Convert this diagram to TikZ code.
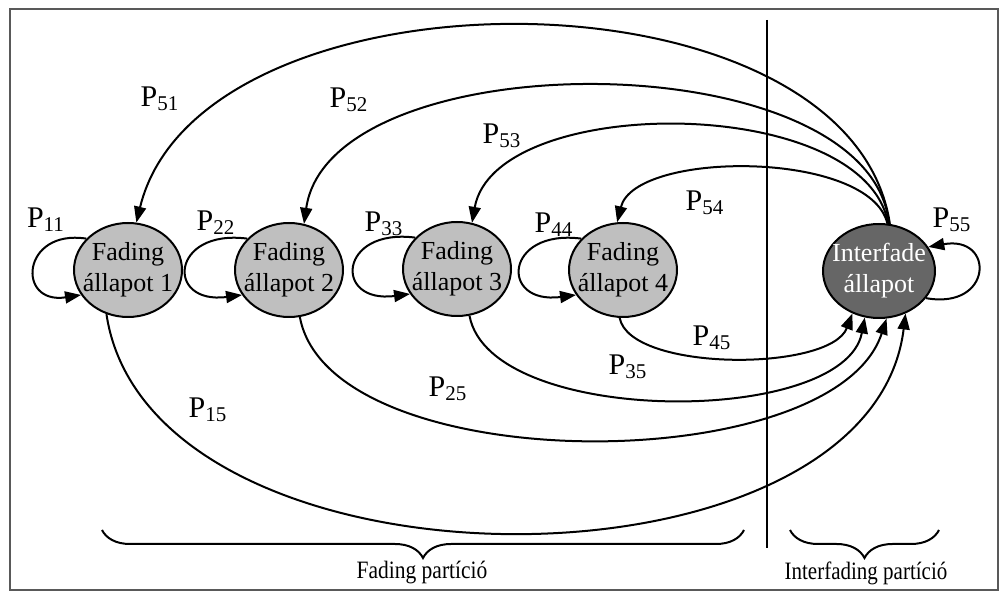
\documentclass[tikz,border=0pt]{standalone}
\usepackage{fontspec}
\usepackage{graphicx}
\setmainfont{Liberation Serif}
\usetikzlibrary{shapes.geometric,arrows.meta,decorations.pathreplacing}

\begin{document}
\begin{tikzpicture}[x=0.5pt,y=-0.5pt,
fstate/.style={ellipse, draw=black, fill=black!25, line width=1pt, minimum width=54pt, minimum height=47pt, inner sep=0pt},
istate/.style={ellipse, draw=black, fill=black!60, line width=1pt, minimum width=56pt, minimum height=47pt, inner sep=0pt},
stext/.style={align=center, font=\fontsize{13}{15.5}\selectfont, inner sep=0pt},
prob/.style={font=\fontsize{15}{18}\selectfont, inner sep=0pt},
trans/.style={line width=1pt, -{Triangle[length=8pt,width=6pt]}},
brace/.style={decorate, decoration={brace, mirror, amplitude=14pt}, line width=1pt},
part/.style={font=\fontsize{12.5}{14}\selectfont, inner sep=0pt}
]
\useasboundingbox (0,0) rectangle (1002,592);
\draw[black!65, line width=1pt] (10,9) rectangle (998,590);

% partition line
\coordinate (div_top) at (767,20);
\coordinate (div_bot) at (767,548);
\draw[line width=0.8pt] (div_top) -- (div_bot);

% states
\node[fstate, label={[stext]center:Fading\\állapot 1}] (f1) at (128,270) {};
\node[fstate, label={[stext]center:Fading\\állapot 2}] (f2) at (289,270) {};
\node[fstate, label={[stext]center:Fading\\állapot 3}] (f3) at (457,269) {};
\node[fstate, label={[stext]center:Fading\\állapot 4}] (f4) at (623,270) {};
\node[istate, label={[stext, text=white]center:Interfade\\állapot}] (i5) at (879,271) {};

% self loops
\draw[trans] (f1.143) .. controls +(-65,-10) and +(-65,10) .. (f1.208);
\draw[trans] (f2.143) .. controls +(-77,-10) and +(-77,10) .. (f2.208);
\draw[trans] (f3.143) .. controls +(-77,-10) and +(-77,10) .. (f3.208);
\draw[trans] (f4.143) .. controls +(-77,-10) and +(-77,10) .. (f4.208);
\draw[trans] (i5.330) .. controls +(67,12) and +(67,-12) .. (i5.26);

% back to the fading states
\draw[trans] (i5.77) .. controls (850,-40) and (200,-40) .. (f1.80);
\draw[trans] (i5.78) .. controls (870,40) and (330,40) .. (f2.72);
\draw[trans] (i5.79) .. controls (865,93) and (495,93) .. (f3.72);
\draw[trans] (i5.80) .. controls (870,150) and (635,150) .. (f4.97);

% into the interfade state
\draw[trans] (f4.266) .. controls (630,372) and (830,372) .. (i5.238);
\draw[trans] (f3.285) .. controls (490,427) and (844,427) .. (i5.253);
\draw[trans] (f2.283) .. controls (330,480) and (834,480) .. (i5.279);
\draw[trans] (f1.244) .. controls (150,605) and (870,605) .. (i5.302);

% probabilities
\node[prob] (p11) at (46,220) {P\textsubscript{11}};
\node[prob] (p22) at (216,223) {P\textsubscript{22}};
\node[prob] (p33) at (384,224) {P\textsubscript{33}};
\node[prob] (p44) at (554,225) {P\textsubscript{44}};
\node[prob] (p55) at (952,220) {P\textsubscript{55}};
\node[prob] (p51) at (160,99) {P\textsubscript{51}};
\node[prob] (p52) at (349,100) {P\textsubscript{52}};
\node[prob] (p53) at (502,136) {P\textsubscript{53}};
\node[prob] (p54) at (705,203) {P\textsubscript{54}};
\node[prob] (p45) at (712,338) {P\textsubscript{45}};
\node[prob] (p35) at (628,367) {P\textsubscript{35}};
\node[prob] (p25) at (448,389) {P\textsubscript{25}};
\node[prob] (p15) at (208,410) {P\textsubscript{15}};

% partitions
\draw[brace] (102,530) -- (744,530);
\draw[brace] (790,530) -- (939,530);
\node[part] (fpart) at (422,573) {\scalebox{0.86}[1]{Fading partíció}};
\node[part] (ipart) at (866,573) {\scalebox{0.84}[1]{Interfading partíció}};
\end{tikzpicture}
\end{document}
